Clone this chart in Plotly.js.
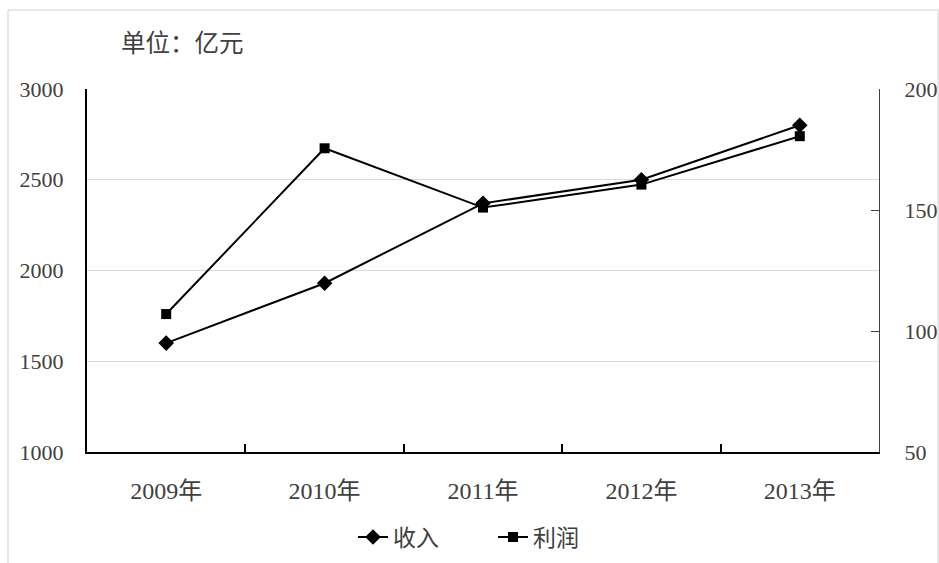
<!DOCTYPE html>
<html>
<head>
<meta charset="utf-8">
<script src="https://cdn.plot.ly/plotly-3.0.1.min.js"></script>
<style>
html,body{margin:0;padding:0;background:#fff;}
#chart{width:939px;height:563px;}
</style>
</head>
<body>
<div id="chart"></div>
<script>
const categories = ['2009年', '2010年', '2011年', '2012年', '2013年'];
const revenue = [1600, 1930, 2370, 2500, 2800];   // 收入 (left axis)
const profit = [107, 175.5, 151, 160.5, 180.5];   // 利润 (right axis)
const leftTicks = [1000, 1500, 2000, 2500, 3000];
const rightTicks = [50, 100, 150, 200];

const FONT = '"Liberation Serif", "Noto Sans CJK SC", serif';
const CJK = '"Noto Sans CJK SC", sans-serif';
const TXT = '#404040';

const traces = [
  {
    x: categories, y: revenue, name: '收入', type: 'scatter', mode: 'lines+markers',
    line: {color: '#000', width: 2},
    marker: {symbol: 'diamond', size: 12, color: '#000'},
    yaxis: 'y'
  },
  {
    x: categories, y: profit, name: '利润', type: 'scatter', mode: 'lines+markers',
    line: {color: '#000', width: 2},
    marker: {symbol: 'square', size: 10, color: '#000'},
    yaxis: 'y2'
  }
];

const PW = 939 - 87 - 60, PH = 563 - 89 - 111;

const layout = {
  width: 939, height: 563,
  margin: {l: 87, r: 60, t: 89, b: 111},
  paper_bgcolor: '#fff', plot_bgcolor: '#fff',
  font: {family: FONT, size: 22, color: TXT},
  title: {
    text: '单位：亿元', xref: 'container', yref: 'container',
    x: 121/939, xanchor: 'left', y: 1 - 43/563, yanchor: 'middle',
    font: {family: CJK, size: 24.5, color: TXT}
  },
  showlegend: true,
  legend: {
    orientation: 'h', xref: 'container', yref: 'container',
    x: 493/939, xanchor: 'center', y: 1 - 537/563, yanchor: 'middle',
    font: {family: CJK, size: 23, color: TXT},
    bgcolor: 'rgba(0,0,0,0)', entrywidth: 95, entrywidthmode: 'pixels'
  },
  xaxis: {
    type: 'category', tickson: 'boundaries', ticks: 'inside', ticklen: 8, tickwidth: 2, tickcolor: '#000',
    showline: true, linecolor: '#000', linewidth: 2, showgrid: false, zeroline: false,
    tickfont: {family: FONT, size: 24, color: TXT}, ticklabelstandoff: 16,
    range: [-0.5, 4.5], fixedrange: true
  },
  yaxis: {
    range: [1000, 3000], tickmode: 'array', tickvals: leftTicks, ticktext: leftTicks.map(String),
    showgrid: true, gridcolor: '#d9d9d9', gridwidth: 1, zeroline: false,
    showline: true, linecolor: '#000', linewidth: 2, ticks: '',
    tickfont: {family: FONT, size: 22, color: TXT}, ticklabelstandoff: 17
  },
  yaxis2: {
    range: [50, 200], tickmode: 'array', tickvals: rightTicks, ticktext: rightTicks.map(String),
    overlaying: 'y', side: 'right', showgrid: false, zeroline: false,
    showline: true, linecolor: '#404040', linewidth: 1, ticks: 'inside', ticklen: 8, tickcolor: '#404040',
    tickfont: {family: FONT, size: 22, color: TXT}, ticklabelstandoff: 20
  },
  shapes: [{
    type: 'rect', xref: 'paper', yref: 'paper',
    x0: (8-87)/PW, x1: (938-87)/PW, y0: (452-566)/PH, y1: (452-10)/PH,
    line: {color: '#d0d0d0', width: 1}, fillcolor: 'rgba(0,0,0,0)', layer: 'below'
  }]
};

Plotly.newPlot('chart', traces, layout, {displayModeBar: false, staticPlot: true});
</script>
</body>
</html>
